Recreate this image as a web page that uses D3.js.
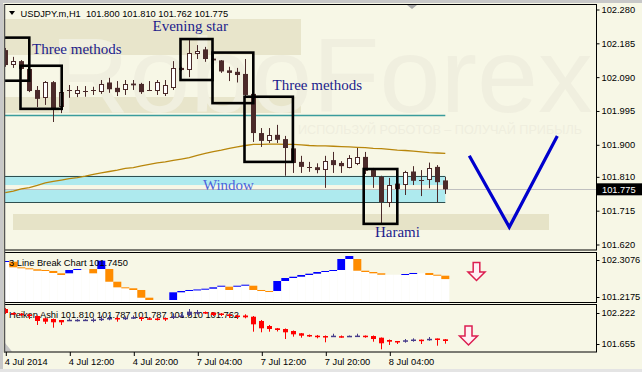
<!DOCTYPE html>
<html>
<head>
<meta charset="utf-8">
<script src="https://cdn.jsdelivr.net/npm/d3@7"></script>
<style>
  html, body { margin: 0; padding: 0; background: #f7f7e6; }
  svg { display: block; }
  text { font-family: "Liberation Sans", Arial, sans-serif; }
</style>
</head>
<body>
<svg id="chart" width="642" height="372"></svg>
<script>
// USDJPY.m H1 candles, one per hour from 4 Jul 04:00
const barOpen = [102.166,102.127,102.135,102.113,102.054,102.034,102.076,102.009,102.053,102.047,
  102.052,102.054,102.053,102.075,102.060,102.057,102.072,102.071,102.053,102.053,
  102.047,102.062,102.116,102.113,102.157,102.168,102.142,102.137,102.109,102.105,
  102.099,102.043,101.933,101.914,101.928,101.916,101.890,101.852,101.838,101.837,
  101.832,101.857,101.849,101.838,101.848,101.866,101.829,101.810,101.740,101.791,
  101.792,101.825,101.801,101.803,101.838,101.800];
const barHigh = [102.172,102.147,102.138,102.116,102.065,102.079,102.079,102.051,102.068,102.065,
  102.065,102.063,102.082,102.088,102.079,102.082,102.082,102.074,102.079,102.082,
  102.082,102.135,102.119,102.194,102.180,102.175,102.144,102.138,102.119,102.116,
  102.141,102.046,101.947,101.947,101.956,101.925,101.891,101.869,101.852,101.848,
  101.869,101.880,101.854,101.871,101.891,101.880,101.835,101.813,101.807,101.795,
  101.827,101.840,101.829,101.850,101.843,101.810];
const barLow = [102.119,102.116,102.110,102.048,102.006,102.012,101.964,101.989,102.032,102.034,
  102.035,102.040,102.043,102.046,102.037,102.040,102.054,102.043,102.051,102.040,
  102.037,102.054,102.107,102.090,102.141,102.133,102.135,102.102,102.079,102.075,
  102.034,101.908,101.894,101.905,101.905,101.813,101.821,101.821,101.824,101.820,
  101.779,101.821,101.821,101.834,101.843,101.818,101.779,101.680,101.725,101.770,
  101.759,101.787,101.756,101.778,101.739,101.762];
const barClose = [102.124,102.135,102.113,102.051,102.029,102.076,102.003,102.048,102.051,102.055,
  102.052,102.054,102.072,102.056,102.048,102.071,102.067,102.048,102.052,102.075,
  102.069,102.116,102.110,102.158,102.164,102.141,102.137,102.106,102.102,102.096,
  102.040,101.933,101.911,101.928,101.914,101.891,101.849,101.838,101.835,101.829,
  101.854,101.843,101.840,101.862,101.866,101.827,101.810,101.739,101.787,101.776,
  101.825,101.799,101.800,101.834,101.795,101.775];

// moving average drawn over the candles
const maValues = [101.766,101.770,101.776,101.780,101.786,101.793,101.797,101.801,101.805,101.808,
  101.812,101.817,101.821,101.825,101.829,101.834,101.836,101.841,101.845,101.849,
  101.852,101.856,101.860,101.864,101.870,101.876,101.881,101.885,101.890,101.894,
  101.898,101.901,101.901,101.902,101.902,101.901,101.901,101.900,101.898,101.897,
  101.897,101.896,101.895,101.894,101.893,101.892,101.890,101.889,101.887,101.885,
  101.884,101.882,101.880,101.878,101.877,101.876];

// price axis + time axis
const priceTicks = [102.280, 102.185, 102.090, 101.995, 101.900, 101.810, 101.715, 101.620];
const lastPrice = 101.775;
const headerText = 'USDJPY.m,H1  101.800 101.810 101.762 101.775';
const timeTicks = [0, 8, 16, 24, 32, 40, 48];
const timeLabels = ['4 Jul 2014', '4 Jul 12:00', '4 Jul 20:00', '7 Jul 04:00', '7 Jul 12:00', '7 Jul 20:00', '8 Jul 04:00'];

// pattern boxes (bar index range, price range)
const boxStart = [-0.2, 1.9, 21.9, 25.9, 29.9, 44.8];
const boxEnd = [3.0, 7.05, 25.9, 31.0, 35.95, 49.0];
const boxTop = [102.201, 102.122, 102.197, 102.159, 102.035, 101.832];
const boxBottom = [102.080, 102.001, 102.082, 102.017, 101.852, 101.678];

// horizontal levels
const resistLevel = 101.984;
const windowTop = [101.813, 101.773];
const windowBottom = [101.787, 101.739];

// forecast V
const vBars = [58, 63, 69];
const vPrices = [101.869, 101.669, 101.925];

// 3 Line Break indicator
const lbTicks = [102.3076, 101.2175];
const lbDir = [1,-1,-1,-1,-1,-1,-1,-1,1,1, 0,-1,1,-1,-1,-1,-1,-1,-1,0,
  0,1,1,1,1,1,1,1,-1,1, 1,-1,-1,-1,1,1,1,1,1,1, 1,1,1,1,-1,-1,-1,-1,0,0, 1,1,0,-1,-1,-1];
const lbHigh = [102.278,102.258,102.093,102.063,102.034,102.013,101.984,101.916,102.013,102.042,
  102.013,102.042,102.287,102.042,101.668,101.503,101.474,101.424,101.197,101.129,
  101.129,101.356,101.394,101.424,101.440,101.462,101.503,101.550,101.521,101.550,
  101.580,101.550,101.424,101.394,101.689,101.777,101.815,101.866,101.904,101.954,
  101.984,102.013,102.337,102.425,102.337,101.992,101.954,101.916,101.874,101.874,
  101.895,101.925,101.916,101.925,101.874,101.845];
const lbLow = [102.249,102.093,102.063,102.034,101.992,101.984,101.925,101.866,101.916,102.013,
  102.013,101.916,102.042,101.668,101.503,101.474,101.424,101.197,101.129,101.129,
  101.129,101.129,101.356,101.394,101.424,101.440,101.462,101.521,101.424,101.521,
  101.550,101.424,101.394,101.365,101.394,101.689,101.777,101.815,101.866,101.904,
  101.954,101.984,102.013,102.337,101.992,101.954,101.916,101.874,101.874,101.874,
  101.866,101.895,101.916,101.866,101.845,101.745];

// Heiken Ashi indicator
const haTicks = [102.222, 101.655];
const haOpen = [102.295,102.222,102.209,102.195,102.167,102.125,102.112,102.094,102.085,102.085,
  102.089,102.089,102.107,102.118,102.131,102.121,102.134,102.140,102.125,102.121,
  102.131,102.140,102.158,102.185,102.222,102.240,102.231,102.213,102.195,102.176,
  102.176,102.154,102.076,101.984,101.942,101.929,101.893,101.851,101.820,101.807,
  101.801,101.792,101.798,101.796,101.796,101.807,101.801,101.770,101.728,101.710,
  101.710,101.723,101.734,101.734,101.756,101.741];
const haClose = [102.222,102.198,102.191,102.176,102.076,102.063,102.052,102.052,102.098,102.098,
  102.100,102.103,102.118,102.131,102.118,102.134,102.145,102.121,102.109,102.112,
  102.116,102.161,102.176,102.246,102.240,102.222,102.185,102.195,102.167,102.152,
  102.143,102.015,101.942,101.929,101.911,101.869,101.832,101.807,101.801,101.792,
  101.783,101.807,101.787,101.805,101.809,101.792,101.746,101.668,101.697,101.697,
  101.723,101.737,101.723,101.750,101.741,101.710];
const haHigh = [102.313,102.231,102.222,102.204,102.176,102.131,102.121,102.094,102.125,102.112,
  102.112,102.136,102.173,102.185,102.149,102.158,102.176,102.149,102.140,102.140,
  102.140,102.217,102.213,102.295,102.277,102.249,102.240,102.222,102.204,102.185,
  102.198,102.167,102.094,102.003,101.948,101.939,101.902,101.856,101.829,101.820,
  101.811,101.843,101.811,101.811,101.843,101.811,101.811,101.774,101.737,101.710,
  101.746,101.759,101.737,101.783,101.756,101.746];
const haLow = [102.204,102.185,102.167,102.112,102.003,102.021,101.953,102.003,102.076,102.067,
  102.076,102.052,102.076,102.089,102.063,102.094,102.112,102.076,102.094,102.085,
  102.076,102.112,102.140,102.167,102.195,102.204,102.167,102.167,102.131,102.112,
  102.125,101.880,101.869,101.880,101.884,101.746,101.789,101.770,101.783,101.759,
  101.686,101.783,101.770,101.792,101.789,101.770,101.697,101.558,101.637,101.655,
  101.679,101.697,101.655,101.715,101.624,101.661];
const haLabel = 'Heiken Ashi 101.810 101.787 101.787 101.810 101.762';
const lbLabel = '3 Line Break Chart 101.7450';

const W = 642, H = 372;
const svg = d3.select('#chart');

const x = d3.scaleLinear().domain([0, 55]).range([5.3, 445.3]);
const yMain = d3.scaleLinear().domain([101.620, 102.280]).range([244.5, 9.5]);
const yLb = d3.scaleLinear().domain([101.2175, 102.3076]).range([297, 260]);
const yHa = d3.scaleLinear().domain([101.655, 102.222]).range([344, 313]);

const px = i => Math.round(x(i)) + 0.5;

// window chrome
svg.append('rect').attr('width', W).attr('height', H).attr('fill', '#f7f7e6');
svg.append('rect').attr('width', W).attr('height', 3).attr('fill', '#c8c8c8');
svg.append('rect').attr('width', 3).attr('height', H).attr('fill', '#c8c8c8');
svg.append('rect').attr('y', 369).attr('width', W).attr('height', 3).attr('fill', '#e4e4e4');

const defs = svg.append('defs');
defs.append('clipPath').attr('id', 'clipMain').append('rect')
  .attr('x', 5).attr('y', 5).attr('width', 591).attr('height', 245);
defs.append('clipPath').attr('id', 'clipLb').append('rect')
  .attr('x', 5).attr('y', 253).attr('width', 591).attr('height', 49);
defs.append('clipPath').attr('id', 'clipHa').append('rect')
  .attr('x', 5).attr('y', 305).attr('width', 591).attr('height', 47);

// ---------- main panel ----------
const gMain = svg.append('g').attr('clip-path', 'url(#clipMain)');

// tan bands behind the labels
gMain.append('rect').attr('x', 5).attr('y', 19).attr('width', 296).attr('height', 36).attr('fill', '#e8e5cb');
gMain.append('rect').attr('x', 5).attr('y', 97).attr('width', 296).attr('height', 16).attr('fill', '#e8e5cb');
gMain.append('rect').attr('x', 13).attr('y', 214).attr('width', 536).attr('height', 16).attr('fill', '#e6e3c7');

// watermark, very faint
gMain.append('text')
  .attr('x', 50).attr('y', 112)
  .attr('textLength', 543).attr('lengthAdjust', 'spacingAndGlyphs')
  .style('font-size', '106px')
  .attr('fill', '#f0efdf')
  .text('RoboForex');
gMain.append('text')
  .attr('x', 298).attr('y', 134)
  .attr('textLength', 284).attr('lengthAdjust', 'spacingAndGlyphs')
  .style('font-size', '13px')
  .attr('fill', '#efeede')
  .text('ИСПОЛЬЗУЙ РОБОТОВ – ПОЛУЧАЙ ПРИБЫЛЬ');

// bid line
gMain.append('line')
  .attr('x1', 5).attr('x2', 597)
  .attr('y1', Math.round(yMain(lastPrice)) + 0.5).attr('y2', Math.round(yMain(lastPrice)) + 0.5)
  .attr('stroke', '#c0c0c0');

// "Window" zone
windowTop.forEach(function(t, i) {
  gMain.append('rect')
    .attr('x', 5).attr('width', x(55) - 5)
    .attr('y', yMain(t)).attr('height', yMain(windowBottom[i]) - yMain(t))
    .attr('fill', '#aeeaee');
});
[windowTop[0], windowBottom[1]].forEach(function(p) {
  gMain.append('line')
    .attr('x1', 5).attr('x2', x(55))
    .attr('y1', Math.round(yMain(p)) + 0.5).attr('y2', Math.round(yMain(p)) + 0.5)
    .attr('stroke', '#2f4f4f');
});

// resistance level
gMain.append('line')
  .attr('x1', 5).attr('x2', x(55))
  .attr('y1', Math.round(yMain(resistLevel)) + 0.5).attr('y2', Math.round(yMain(resistLevel)) + 0.5)
  .attr('stroke', '#3a9c9c').attr('stroke-width', 1.3);

// moving average
const maLine = d3.line()
  .x(function(d, i) { return x(i) })
  .y(function(d) { return yMain(d) });
gMain.append('path')
  .attr('d', maLine(maValues))
  .attr('fill', 'none')
  .attr('stroke', '#b8860b')
  .attr('stroke-width', 1.3);

// candles
const candleColor = '#4b2a2a';
const candle = gMain.selectAll('.candle')
  .data(d3.range(barOpen.length))
  .enter().append('g')
  .attr('class', 'candle');

candle.append('line')
  .attr('x1', px).attr('x2', px)
  .attr('y1', function(i) { return yMain(barHigh[i]) })
  .attr('y2', function(i) { return yMain(barLow[i]) })
  .attr('stroke', candleColor);

candle.each(function(i) {
  const g = d3.select(this);
  const c = px(i);
  const top = yMain(Math.max(barOpen[i], barClose[i]));
  const bot = yMain(Math.min(barOpen[i], barClose[i]));
  if (bot - top < 1.5) {
    // doji -> cross
    g.append('line')
      .attr('x1', c - 2.5).attr('x2', c + 2.5)
      .attr('y1', Math.round(top) + 0.5).attr('y2', Math.round(top) + 0.5)
      .attr('stroke', candleColor);
  } else if (barClose[i] > barOpen[i]) {
    g.append('rect')
      .attr('x', c - 2).attr('width', 4)
      .attr('y', Math.round(top) + 0.5).attr('height', Math.max(1, Math.round(bot - top)))
      .attr('fill', '#ffffff').attr('stroke', candleColor);
  } else {
    g.append('rect')
      .attr('x', c - 2.5).attr('width', 5)
      .attr('y', top).attr('height', bot - top)
      .attr('fill', candleColor);
  }
});

// pattern boxes
boxStart.forEach(function(b, i) {
  gMain.append('rect')
    .attr('x', x(b)).attr('width', x(boxEnd[i]) - x(b))
    .attr('y', yMain(boxTop[i])).attr('height', yMain(boxBottom[i]) - yMain(boxTop[i]))
    .attr('fill', 'none')
    .attr('stroke', '#000')
    .attr('stroke-width', 2.6);
});

// pattern labels
const labelColor = '#1c1c8c';
function patternLabel(txt, bar, price, color) {
  gMain.append('text')
    .attr('x', x(bar)).attr('y', yMain(price))
    .style('font-family', '"Liberation Serif", "Times New Roman", serif')
    .style('font-size', '15px')
    .attr('fill', color || labelColor)
    .text(txt);
}
patternLabel('Three methods', 3.34, 102.154);
patternLabel('Evening star', 18.4, 102.221);
patternLabel('Three methods', 33.4, 102.053);
patternLabel('Window', 24.7, 101.773, '#4a63dc');
patternLabel('Harami', 46.2, 101.642);

// forecast V
const vLine = d3.line()
  .x(function(d, i) { return x(vBars[i]) })
  .y(function(d) { return yMain(d) });
gMain.append('path')
  .attr('d', vLine(vPrices))
  .attr('fill', 'none')
  .attr('stroke', '#0000cd')
  .attr('stroke-width', 3.2);

// header
svg.append('path').attr('d', 'M9,11 L15,11 L12,15 Z').attr('fill', '#000');
svg.append('text')
  .attr('x', 20.5).attr('y', 17)
  .style('font-size', '9.3px')
  .style('white-space', 'pre')
  .text(headerText);

// shift marker
svg.append('path').attr('d', 'M407,5 L417,5 L412,9 Z').attr('fill', '#a8a8a8');

// ---------- 3 line break panel ----------
const gLb = svg.append('g').attr('clip-path', 'url(#clipLb)');
const lb = gLb.selectAll('.lb')
  .data(d3.range(lbDir.length))
  .enter().append('g');
lb.append('rect')
  .attr('x', function(i) { return x(i) - 4 })
  .attr('width', 8)
  .attr('y', function(i) { return yLb(lbLow[i]) })
  .attr('height', function(i) { return 303 - yLb(lbLow[i]) })
  .attr('fill', '#ffffff');
lb.filter(function(i) { return lbDir[i] !== 0 })
  .append('rect')
  .attr('x', function(i) { return x(i) - 4 })
  .attr('width', 8)
  .attr('y', function(i) { return yLb(lbHigh[i]) })
  .attr('height', function(i) { return Math.max(1, yLb(lbLow[i]) - yLb(lbHigh[i])) })
  .attr('fill', function(i) { return lbDir[i] > 0 ? '#0000ff' : '#ff8c00' });
svg.append('text')
  .attr('x', 9).attr('y', 265.5)
  .style('font-size', '9.3px')
  .text(lbLabel);

// ---------- heiken ashi panel ----------
svg.append('text')
  .attr('x', 9).attr('y', 317.5)
  .style('font-size', '9.3px')
  .text(haLabel);
const gHa = svg.append('g').attr('clip-path', 'url(#clipHa)');
const ha = gHa.selectAll('.ha')
  .data(d3.range(haOpen.length))
  .enter().append('g');
const haColor = function(i) { return haClose[i] >= haOpen[i] ? '#483d8b' : '#ff0000' };
ha.append('line')
  .attr('x1', px).attr('x2', px)
  .attr('y1', function(i) { return yHa(haHigh[i]) })
  .attr('y2', function(i) { return yHa(haLow[i]) })
  .attr('stroke', haColor);
ha.append('rect')
  .attr('x', function(i) { return px(i) - 2.5 })
  .attr('width', 5)
  .attr('y', function(i) { return yHa(Math.max(haOpen[i], haClose[i])) })
  .attr('height', function(i) { return Math.max(1.5, Math.abs(yHa(haOpen[i]) - yHa(haClose[i]))) })
  .attr('fill', haColor);

// down arrows on the indicators
function downArrow(cx, top, h) {
  const s = h / 19;
  const pts = [[-3.5, 0], [3.5, 0], [3.5, 10], [9, 10], [0, 19], [-9, 10], [-3.5, 10]];
  svg.append('path')
    .attr('d', 'M' + pts.map(function(p) { return (cx + p[0] * s) + ',' + (top + p[1] * s) }).join('L') + 'Z')
    .attr('fill', '#fff0f4')
    .attr('stroke', '#dc1e50')
    .attr('stroke-width', 1.5);
}
downArrow(x(58.9), 262.5, 18);
downArrow(x(57.9), 326, 19);

// gray corner mark
svg.append('path').attr('d', 'M5,343 L5,351.5 L12,351.5 Z').attr('fill', '#c4c4c4');

// ---------- frames ----------
svg.append('rect').attr('x', 4.5).attr('y', 4.5).attr('width', 592).attr('height', 245.5)
  .attr('fill', 'none').attr('stroke', '#000');
svg.append('rect').attr('x', 4.5).attr('y', 252.5).attr('width', 592).attr('height', 50)
  .attr('fill', 'none').attr('stroke', '#000');
svg.append('rect').attr('x', 4.5).attr('y', 304.5).attr('width', 592).attr('height', 47.5)
  .attr('fill', 'none').attr('stroke', '#000');
svg.append('line').attr('x1', 4.5).attr('x2', 4.5).attr('y1', 4).attr('y2', 352.5)
  .attr('stroke', '#555').attr('stroke-width', 1.5);

// ---------- axes ----------
function styleAxis(g) {
  g.select('.domain').remove();
  g.selectAll('text').style('font-size', '9.3px').attr('fill', '#000')
    .style('font-family', '"Liberation Sans", Arial, sans-serif');
  g.selectAll('line').attr('stroke', '#000');
}

svg.append('g')
  .attr('transform', 'translate(596.5,0)')
  .call(d3.axisRight(yMain).tickValues(priceTicks).tickFormat(d3.format('.3f')).tickSize(3).tickPadding(2))
  .call(styleAxis);

svg.append('g')
  .attr('transform', 'translate(596.5,0)')
  .call(d3.axisRight(yLb).tickValues(lbTicks).tickFormat(d3.format('.4f')).tickSize(3).tickPadding(2))
  .call(styleAxis);

svg.append('g')
  .attr('transform', 'translate(596.5,0)')
  .call(d3.axisRight(yHa).tickValues(haTicks).tickFormat(d3.format('.3f')).tickSize(3).tickPadding(2))
  .call(styleAxis);

// current price tag
const tagY = yMain(lastPrice);
svg.append('rect').attr('x', 597).attr('y', tagY - 6).attr('width', 45).attr('height', 12).attr('fill', '#000');
svg.append('text').attr('x', 602).attr('y', tagY + 3.3)
  .style('font-size', '9.3px').attr('fill', '#fff')
  .text(d3.format('.3f')(lastPrice));

const xAxis = svg.append('g')
  .attr('transform', 'translate(0,352)')
  .call(d3.axisBottom(x).tickValues(timeTicks)
    .tickFormat(function(d, i) { return timeLabels[i] }).tickSize(4).tickPadding(2))
  .call(styleAxis);
xAxis.selectAll('.tick line').attr('transform', 'translate(0.5,0)');
xAxis.selectAll('.tick text').attr('text-anchor', 'start').attr('x', -1);
</script>
</body>
</html>
